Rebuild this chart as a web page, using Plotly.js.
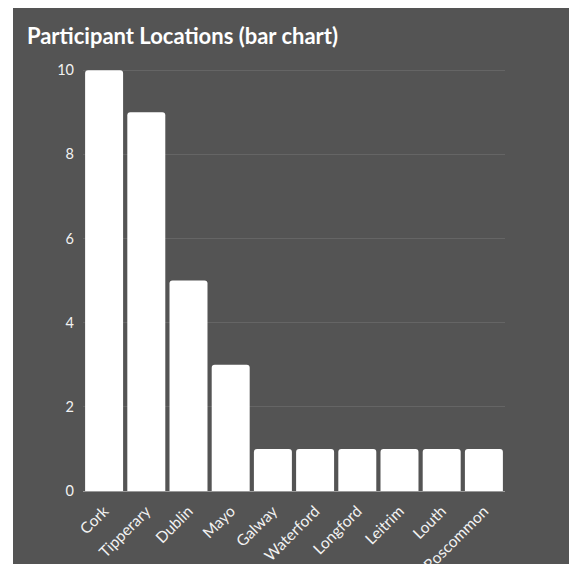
<!DOCTYPE html>
<html><head><meta charset="utf-8">
<script src="https://cdn.plot.ly/plotly-3.0.1.min.js"></script>
<style>html,body{margin:0;padding:0;background:#fff;overflow:hidden}#c{position:absolute;left:13px;top:8px;width:556px;height:556px}</style>
</head><body><div id="c"></div>
<script>
const locations = ['Cork','Tipperary','Dublin','Mayo','Galway','Waterford','Longford','Leitrim','Louth','Roscommon'];
const participants = [10,9,5,3,1,1,1,1,1,1];
const yTicks = [0,2,4,6,8,10];

Plotly.newPlot('c', [{
  type: 'bar', x: locations, y: participants,
  marker: {color: '#ffffff', cornerradius: 3},
  hoverinfo: 'none'
}], {
  width: 556, height: 556,
  paper_bgcolor: '#545454', plot_bgcolor: '#545454',
  margin: {l: 70, r: 64, t: 58, b: 73},
  bargap: 0.1,
  font: {family: 'Lato, "Open Sans", sans-serif', color: '#f2f2f2', size: 14},
  title: {text: '<b>Participant Locations (bar chart)</b>', x: 0.025, xanchor: 'left', y: 0.95, yanchor: 'middle',
    font: {family: 'Lato, sans-serif', size: 22, color: '#ffffff'}},
  xaxis: {tickangle: -45, showgrid: false, showline: true, linecolor: '#9a9a9a', linewidth: 1,
    ticklabelstandoff: 4, tickfont: {size: 15.5, color: '#f2f2f2'}, automargin: false},
  yaxis: {range: [0, 10.1], tickvals: yTicks, showgrid: true, gridcolor: '#656565', gridwidth: 1,
    zeroline: false, ticklabelstandoff: 8, tickfont: {size: 14.5, color: '#f2f2f2'}, automargin: false},
  showlegend: false
}, {displayModeBar: false, staticPlot: true});
</script></body></html>
